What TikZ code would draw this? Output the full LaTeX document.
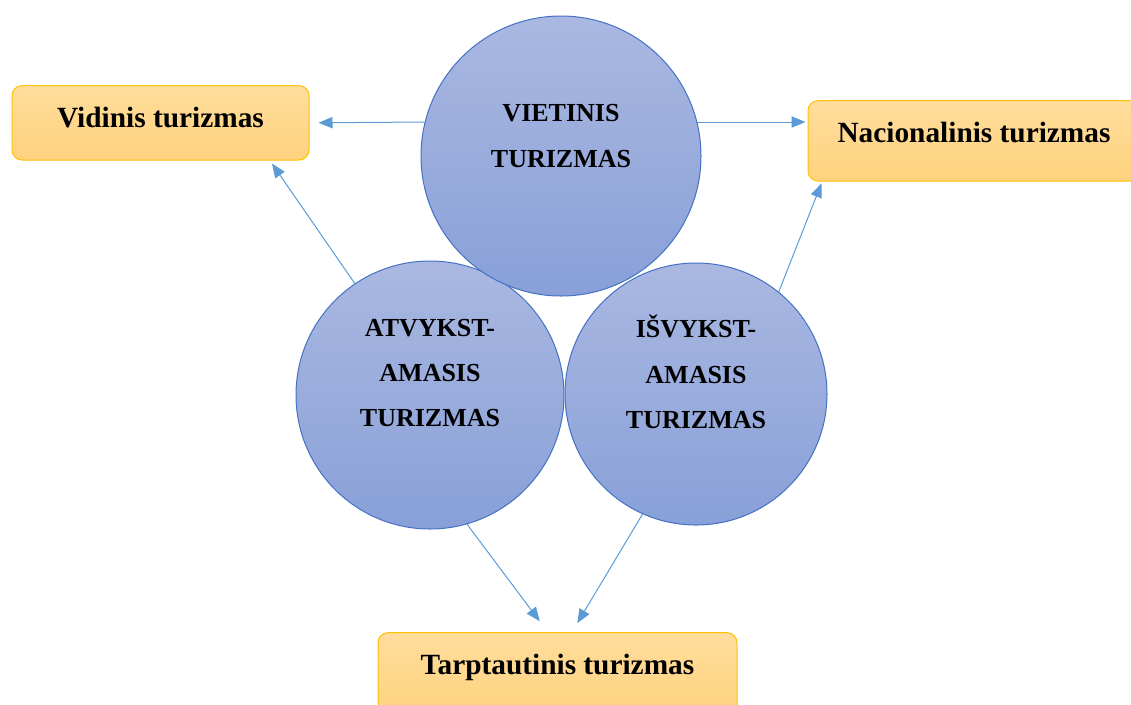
\documentclass[tikz,border=0pt]{standalone}
\usepackage{fontspec}
\setmainfont{Liberation Serif}
\usepackage{tikz}
\usetikzlibrary{arrows.meta, backgrounds}

\definecolor{circtop}{RGB}{170,184,225}
\definecolor{circbot}{RGB}{136,160,216}
\definecolor{circline}{RGB}{68,114,196}
\definecolor{boxtop}{RGB}{255,221,156}
\definecolor{boxbot}{RGB}{255,210,126}
\definecolor{boxline}{RGB}{255,192,0}
\definecolor{arrowblue}{RGB}{91,155,213}

\begin{document}
\begin{tikzpicture}[
  x=0.75pt, y=-0.75pt,
  box/.style={draw=boxline, line width=0.75pt, rounded corners=7.5pt,
    top color=boxtop, bottom color=boxbot, inner sep=0pt, anchor=base,
    text height=31pt, font=\fontsize{22}{26}\selectfont\bfseries},
  circ/.style={circle, draw=circline, line width=0.75pt, inner sep=0pt,
    top color=circtop, bottom color=circbot},
  ctext/.style={align=center, font=\fontsize{19.5}{34}\selectfont\bfseries},
  arrow/.style={draw=arrowblue, line width=0.75pt,
    -{Triangle[length=10.5pt, width=8.5pt]}},
]
  \useasboundingbox (0,0) rectangle (1131,704);

  \node[box, minimum width=222.75pt, text depth=24.75pt] (vid)  at (160.5,127) {Vidinis turizmas};
  \node[box, minimum width=249pt,    text depth=29.25pt] (nac)  at (974,142)   {Nacionalinis turizmas};
  \node[box, minimum width=269.25pt, text depth=30.75pt] (tarp) at (557.5,674) {Tarptautinis turizmas};

  \node[circ, minimum size=201pt]   (atv)  at (430,395) {};
  \node[circ, minimum size=196.5pt] (isv)  at (696,394) {};
  \node[circ, minimum size=210pt]   (viet) at (561,156) {};

  \node[ctext] (vietlbl) at ([yshift=15pt]viet.center) {VIETINIS\\TURIZMAS};
  \node[ctext] (atvlbl)  at ([yshift=16.5pt]atv.center) {ATVYKST-\\AMASIS\\TURIZMAS};
  \node[ctext] (isvlbl)  at ([yshift=16.5pt]isv.center) {IŠVYKST-\\AMASIS\\TURIZMAS};

  \begin{scope}[on background layer]
    \draw[arrow, shorten >=6.75pt] (viet.166) -- (vid.east);
    \draw[arrow, shorten >=1.5pt]  (viet.14) -- (viet.14 -| nac.west);
    \draw[arrow, shorten >=2.8pt]  (atv.124) -- (vid.-19);
    \draw[arrow, shorten >=1.5pt]  (isv.51) -- (nac.195);
    \draw[arrow, shorten >=10.2pt] (atv.-74) -- (tarp.103);
    \draw[arrow, shorten >=7.9pt]  (isv.-114) -- (tarp.71);
  \end{scope}
\end{tikzpicture}
\end{document}
